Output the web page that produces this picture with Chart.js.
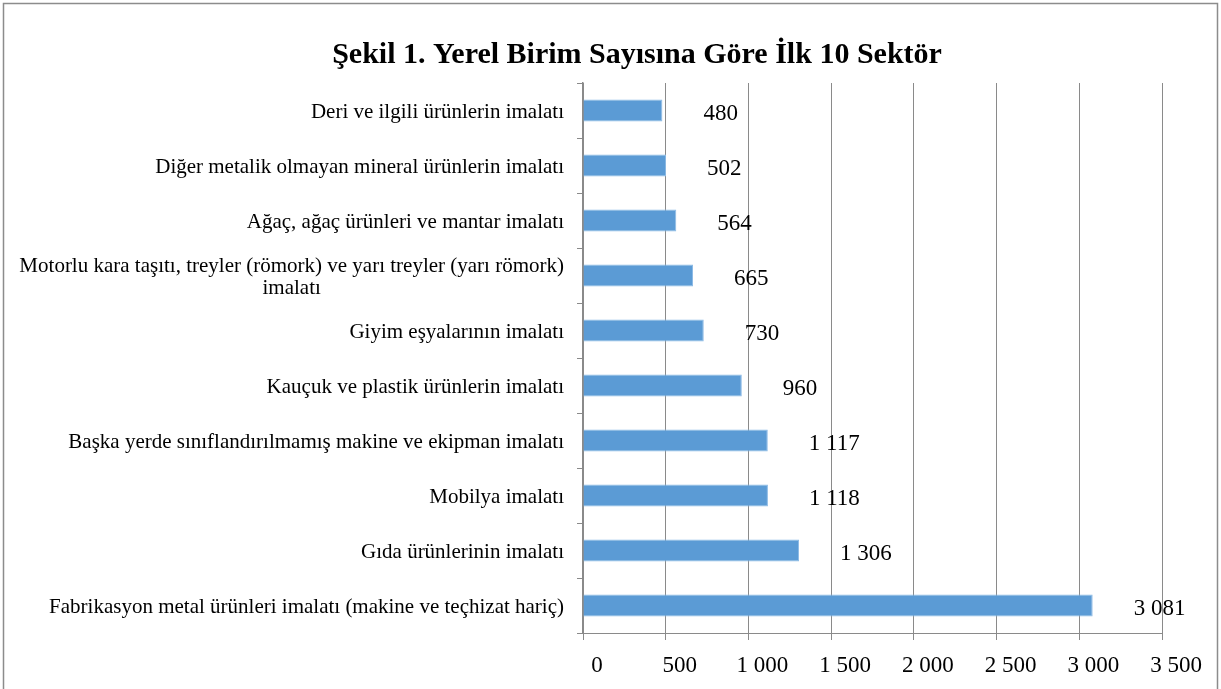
<!DOCTYPE html>
<html><head><meta charset="utf-8">
<script src="https://cdn.jsdelivr.net/npm/chart.js@4/dist/chart.umd.min.js"></script>
<style>html,body{margin:0;padding:0;background:#fff}#w{width:1221px;height:689px;position:relative}</style>
</head><body><div id="w"><canvas id="c" width="1221" height="689"></canvas></div>
<script>
const title = "Şekil 1. Yerel Birim Sayısına Göre İlk 10 Sektör";
const categories = [
  ["Deri ve ilgili ürünlerin imalatı"],
  ["Diğer metalik olmayan mineral ürünlerin imalatı"],
  ["Ağaç, ağaç ürünleri ve mantar imalatı"],
  ["Motorlu kara taşıtı, treyler (römork) ve yarı treyler (yarı römork)", "imalatı"],
  ["Giyim eşyalarının imalatı"],
  ["Kauçuk ve plastik ürünlerin imalatı"],
  ["Başka yerde sınıflandırılmamış makine ve ekipman imalatı"],
  ["Mobilya imalatı"],
  ["Gıda ürünlerinin imalatı"],
  ["Fabrikasyon metal ürünleri imalatı (makine ve teçhizat hariç)"]
];
const values = [480, 502, 564, 665, 730, 960, 1117, 1118, 1306, 3081];
const xTicks = [0, 500, 1000, 1500, 2000, 2500, 3000, 3500];

const fmt = n => String(n).replace(/\B(?=(\d{3})+(?!\d))/g, " ");
const SERIF = '"Liberation Serif", "Times New Roman", serif';
const GRID = '#8a8a8a';

const decor = {
  id: 'decor',
  beforeDraw(chart) {
    const ctx = chart.ctx;
    ctx.save();
    ctx.strokeStyle = '#8c8c8c';
    ctx.lineWidth = 1.5;
    ctx.beginPath();
    ctx.moveTo(3.5, 700); ctx.lineTo(3.5, 3.5); ctx.lineTo(1217.5, 3.5); ctx.lineTo(1217.5, 700);
    ctx.stroke();
    ctx.restore();
  },
  afterDraw(chart) {
    const ctx = chart.ctx;
    const ys = chart.scales.y, xs = chart.scales.x;
    ctx.save();
    ctx.fillStyle = '#000';
    ctx.font = 'bold 30px ' + SERIF;
    ctx.textAlign = 'center';
    ctx.textBaseline = 'middle';
    ctx.fillText(title, 637, 55);
    // category labels
    ctx.font = '21px ' + SERIF;
    ctx.textBaseline = 'middle';
    const right = 564;
    chart.data.labels.forEach((lines, i) => {
      const cy = ys.getPixelForTick(i) + 2;
      const widths = lines.map(l => ctx.measureText(l).width);
      const maxW = Math.max(...widths);
      const lh = 22;
      const top = cy - (lines.length - 1) * lh / 2;
      lines.forEach((l, j) => {
        ctx.textAlign = 'center';
        ctx.fillText(l, right - maxW / 2, top + j * lh);
      });
    });
    // data labels
    ctx.font = '23px ' + SERIF;
    ctx.textAlign = 'left';
    const meta = chart.getDatasetMeta(0);
    meta.data.forEach((bar, i) => {
      const v = chart.data.datasets[0].data[i];
      ctx.fillText(fmt(v), xs.getPixelForValue(v) + 41, bar.y + 3);
    });
    ctx.restore();
  }
};

new Chart(document.getElementById('c'), {
  type: 'bar',
  data: {
    labels: categories,
    datasets: [{
      data: values,
      backgroundColor: '#5b9bd5',
      borderColor: '#8dbbe6',
      borderWidth: 1,
      barPercentage: 0.8,
      categoryPercentage: 0.5
    }]
  },
  options: {
    indexAxis: 'y',
    responsive: false,
    animation: false,
    devicePixelRatio: 1,
    layout: { padding: { top: 83, right: 59, bottom: 0, left: 0 } },
    plugins: { legend: { display: false }, title: { display: false }, tooltip: { enabled: false } },
    scales: {
      x: {
        min: 0, max: 3500,
        afterBuildTicks(s) { s.ticks = xTicks.map(v => ({ value: v })); },
        afterFit(s) { s.height = 56; },
        ticks: {
          callback: v => fmt(v),
          font: { family: SERIF, size: 23 },
          color: '#000',
          labelOffset: 14,
          padding: 12,
          maxRotation: 0
        },
        grid: { color: GRID, lineWidth: 1, tickLength: 7 },
        border: { color: GRID, width: 1 }
      },
      y: {
        afterFit(s) { s.width = 583; },
        ticks: { display: false },
        grid: { drawOnChartArea: false, drawTicks: true, tickLength: 6, color: GRID, offset: true },
        border: { color: GRID, width: 1.5 }
      }
    }
  },
  plugins: [decor]
});
</script></body></html>
